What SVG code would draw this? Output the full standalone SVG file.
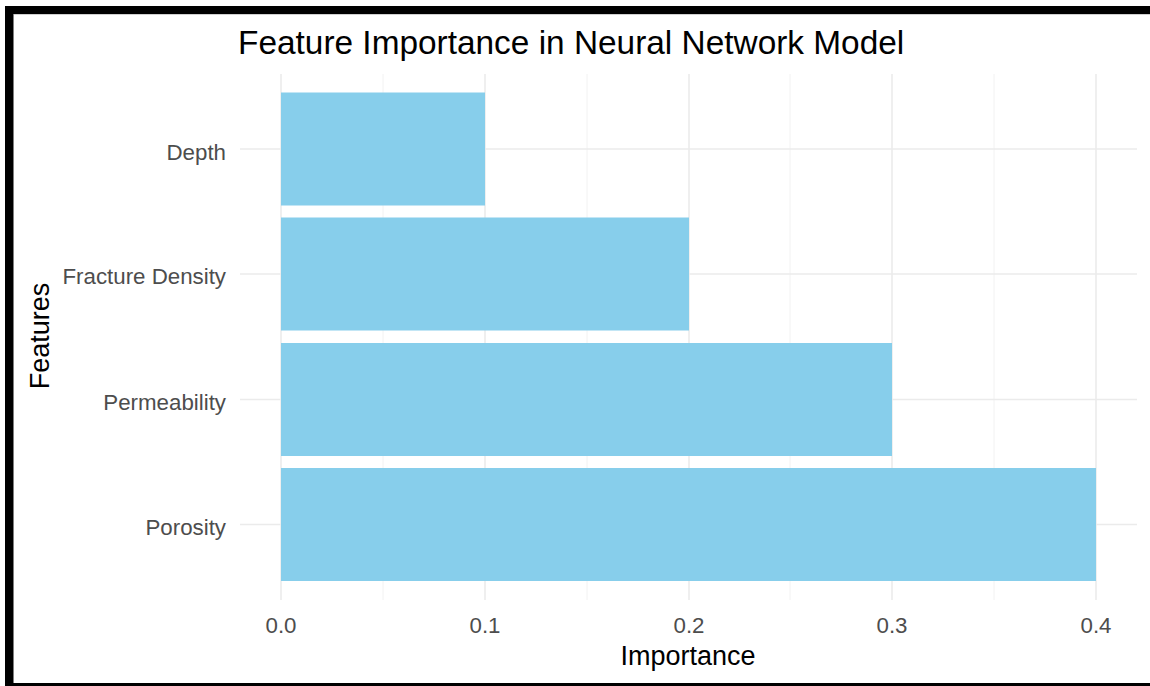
<svg xmlns="http://www.w3.org/2000/svg" width="1150" height="686" viewBox="0 0 1150 686">
<style>
.grid{stroke:#ebebeb;stroke-width:1.6;fill:none}
.minor{stroke:#f2f2f2;stroke-width:1;fill:none}
.bar{fill:#87ceeb}
.tick{font-family:"Liberation Sans",Arial,sans-serif;font-size:22.3px;fill:#4d4d4d}
.axt{font-family:"Liberation Sans",Arial,sans-serif;font-size:27px;fill:#000}
.title{font-family:"Liberation Sans",Arial,sans-serif;font-size:33.4px;fill:#000}
</style>
<rect x="0" y="0" width="1150" height="686" fill="#ffffff"/>
<g id="grid">
<line class="minor" x1="383" y1="74" x2="383" y2="600"/>
<line class="minor" x1="587" y1="74" x2="587" y2="600"/>
<line class="minor" x1="790" y1="74" x2="790" y2="600"/>
<line class="minor" x1="994" y1="74" x2="994" y2="600"/>
<line class="grid" x1="281" y1="74" x2="281" y2="600"/>
<line class="grid" x1="485" y1="74" x2="485" y2="600"/>
<line class="grid" x1="689" y1="74" x2="689" y2="600"/>
<line class="grid" x1="892" y1="74" x2="892" y2="600"/>
<line class="grid" x1="1096" y1="74" x2="1096" y2="600"/>
<line class="grid" x1="240" y1="149" x2="1137" y2="149"/>
<line class="grid" x1="240" y1="274" x2="1137" y2="274"/>
<line class="grid" x1="240" y1="399.5" x2="1137" y2="399.5"/>
<line class="grid" x1="240" y1="524.5" x2="1137" y2="524.5"/>
</g>
<g id="bars">
<rect id="bar-depth" class="bar" x="281" y="92.5" width="204" height="113"/>
<rect id="bar-fracture" class="bar" x="281" y="217.5" width="408" height="113"/>
<rect id="bar-permeability" class="bar" x="281" y="343" width="611" height="113"/>
<rect id="bar-porosity" class="bar" x="281" y="468" width="815" height="113"/>
</g>
<g id="y-labels" text-anchor="end">
<text class="tick" x="226" y="160">Depth</text>
<text class="tick" x="226" y="284">Fracture Density</text>
<text class="tick" x="226" y="410">Permeability</text>
<text class="tick" x="226" y="535">Porosity</text>
</g>
<g id="x-labels" text-anchor="middle">
<text class="tick" x="281" y="633">0.0</text>
<text class="tick" x="485" y="633">0.1</text>
<text class="tick" x="689" y="633">0.2</text>
<text class="tick" x="892" y="633">0.3</text>
<text class="tick" x="1096" y="633">0.4</text>
</g>
<text id="x-title" class="axt" x="688" y="665" text-anchor="middle">Importance</text>
<text id="y-title" class="axt" transform="translate(49,336) rotate(-90)" text-anchor="middle">Features</text>
<text id="title" class="title" x="238" y="54">Feature Importance in Neural Network Model</text>
<g id="frame">
<rect x="5" y="6" width="1145" height="8" fill="#000"/>
<line x1="14" y1="14.5" x2="1150" y2="14.5" stroke="#d0d0d0" stroke-width="1"/>
<rect x="5" y="6" width="8.5" height="680" fill="#000"/>
<rect x="5" y="683" width="1145" height="3" fill="#000"/>
</g>
</svg>
